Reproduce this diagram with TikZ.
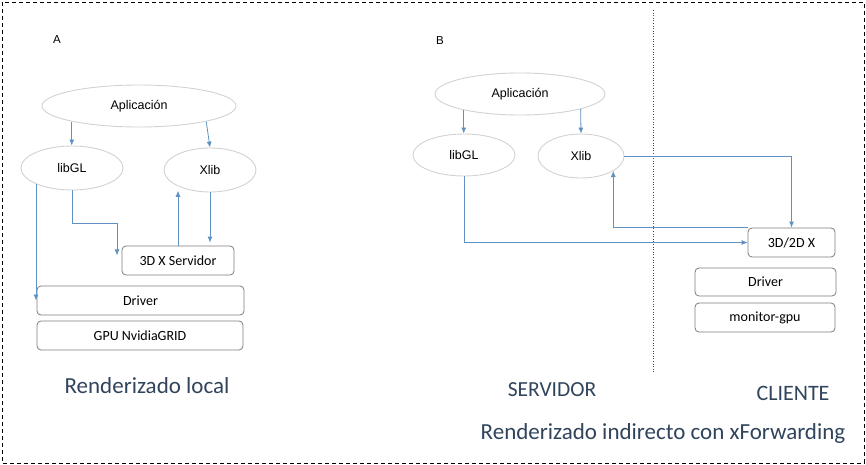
\documentclass[tikz,border=0pt]{standalone}
\usepackage{fontspec}
\setmainfont{Carlito}
\newfontfamily\ellfont{Liberation Sans}
\usetikzlibrary{shapes.geometric,arrows.meta}
\definecolor{flowblue}{RGB}{95,145,195}
\definecolor{ellgray}{RGB}{210,210,210}
\definecolor{boxgray}{RGB}{125,125,125}
\definecolor{titleblue}{RGB}{48,68,92}

\begin{document}
\begin{tikzpicture}[x=1pt,y=-1pt,
  ell/.style={draw=ellgray,line width=0.9pt,ellipse,inner sep=0pt,font=\ellfont\fontsize{12.5}{14}\selectfont},
  layer/.style={draw=boxgray,line width=0.8pt,rounded corners=4pt,inner sep=0pt,font=\fontsize{14}{16}\selectfont},
  flow/.style={draw=flowblue,line width=0.8pt,-{Latex[length=6pt,width=5pt]}},
  caption/.style={text=titleblue,font=\fontsize{23}{27}\selectfont},
  tag/.style={font=\ellfont\fontsize{11.5}{13}\selectfont}]
\useasboundingbox (0,0) rectangle (866,465);
\draw[dash pattern=on 4pt off 3pt] (2,2) rectangle (864,463);
\draw[dotted,line width=0.6pt,black!70] (653,10) -- (653,373);

\node[tag] (tagA) at (57,40) {A};
\node[tag] (tagB) at (440,41) {B};

\node[ell,minimum width=194pt,minimum height=42pt] (appA) at (139,106) {Aplicación};
\node[ell,minimum width=102pt,minimum height=44pt] (glA) at (72,168) {libGL};
\node[ell,minimum width=92pt,minimum height=44pt] (xlA) at (210,170) {Xlib};
\node[layer,minimum width=112pt,minimum height=29pt] (srvA) at (178,260.5) {3D X Servidor};
\node[layer,minimum width=207pt,minimum height=29pt] (drvA) at (140.5,300.5) {Driver};
\node[layer,minimum width=206pt,minimum height=29pt] (gpuA) at (140,335.5) {GPU NvidiaGRID};
\node[caption] (capA) at (147,386) {Renderizado local};

\draw[flow] (appA.193) -- (appA.193 |- glA.north);
\draw[flow] (appA.347) -- (xlA.north);
\draw[flow] (glA.204) -- (glA.204 |- drvA.west);
\draw[flow] (glA.south) |- ++(45,33) -- ++(0,32);
\draw[flow] (srvA.north) -- (srvA.north |- xlA.230);
\draw[flow,shorten >=3pt] (xlA.south) -- (xlA.south |- srvA.north);

\node[ell,minimum width=170pt,minimum height=42pt] (appB) at (520,94) {Aplicación};
\node[ell,minimum width=102pt,minimum height=42pt] (glB) at (464,155) {libGL};
\node[ell,minimum width=86pt,minimum height=44pt] (xlB) at (581,156) {Xlib};
\node[layer,minimum width=87pt,minimum height=29pt] (xB) at (791.5,242.5) {3D/2D X};
\node[layer,minimum width=141pt,minimum height=28pt] (drvB) at (765.5,282) {Driver};
\node[layer,minimum width=140pt,minimum height=29pt] (gpuB) at (765,317.5) {monitor-gpu};
\node[caption,font=\fontsize{21.5}{26}\selectfont] (capS) at (552,390) {SERVIDOR};
\node[caption,font=\fontsize{22}{26}\selectfont] (capC) at (793,393) {CLIENTE};
\node[caption] (capB) at (663,433) {Renderizado indirecto con xForwarding};

\draw[flow] (appB.196) -- (appB.196 |- glB.north);
\draw[flow] (appB.346) -- (xlB.north);
\draw[flow] (xlB.east) -| (xB.north);
\draw[flow] (xB.north west) -| (xlB.335);
\draw[flow] (glB.south) |- (xB.west);
\end{tikzpicture}
\end{document}
